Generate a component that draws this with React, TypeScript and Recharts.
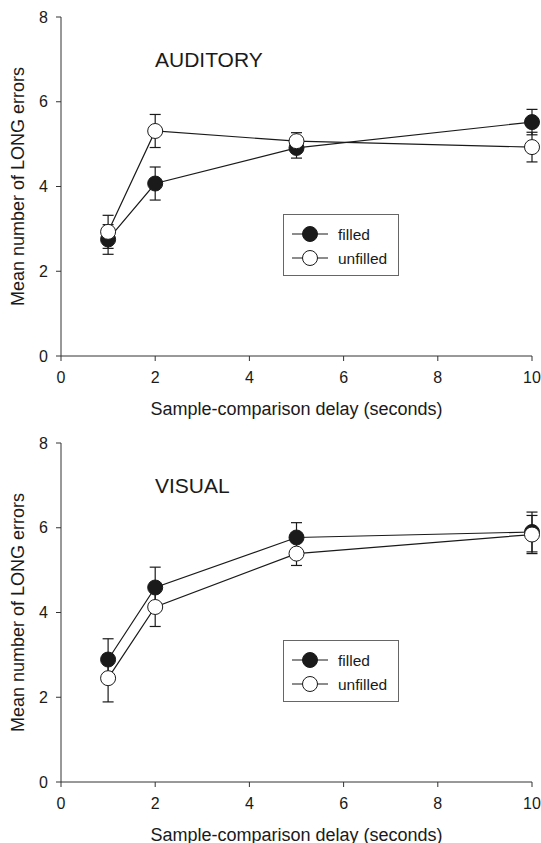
import { LineChart, Line, XAxis, YAxis, ErrorBar, Legend } from "recharts";

const delays = [1, 2, 5, 10];
const xTicks = [0, 2, 4, 6, 8, 10];
const yTicks = [0, 2, 4, 6, 8];

const auditoryFilled = [2.75, 4.07, 4.91, 5.52];
const auditoryFilledErr = [0.35, 0.39, 0.24, 0.3];
const auditoryUnfilled = [2.93, 5.31, 5.07, 4.93];
const auditoryUnfilledErr = [0.39, 0.39, 0.2, 0.35];

const visualFilled = [2.89, 4.59, 5.77, 5.9];
const visualFilledErr = [0.49, 0.48, 0.35, 0.47];
const visualUnfilled = [2.45, 4.13, 5.39, 5.84];
const visualUnfilledErr = [0.56, 0.46, 0.28, 0.45];

const legendLabels = ["filled", "unfilled"];

const FONT = '"Liberation Sans", Arial, Helvetica, sans-serif';
const INK = "#1a1a1a";
const AXIS = "#333";

function buildRows(
  filled: number[],
  filledErr: number[],
  unfilled: number[],
  unfilledErr: number[]
) {
  return delays.map((d, i) => ({
    delay: d,
    filled: filled[i],
    filledErr: filledErr[i],
    unfilled: unfilled[i],
    unfilledErr: unfilledErr[i],
  }));
}

function LegendBox() {
  return (
    <svg width={116} height={62} style={{ display: "block" }}>
      <rect x={0.5} y={0.5} width={115} height={61} fill="#fff" stroke="#666" />
      {legendLabels.map((label, i) => {
        const cy = 20 + i * 24;
        return (
          <g key={label}>
            <line x1={9} x2={45} y1={cy} y2={cy} stroke={INK} strokeWidth={1.2} />
            <circle
              cx={27}
              cy={cy}
              r={7.5}
              fill={i === 0 ? INK : "#fff"}
              stroke={INK}
              strokeWidth={1}
            />
            <text
              x={55}
              y={cy}
              dy="0.36em"
              fontSize={15.5}
              fontFamily={FONT}
              fill={INK}
            >
              {label}
            </text>
          </g>
        );
      })}
    </svg>
  );
}

function Panel({ title, rows }: { title: string; rows: ReturnType<typeof buildRows> }) {
  return (
    <div style={{ position: "relative", width: 541, height: 426 }}>
      <LineChart
        width={541}
        height={426}
        data={rows}
        margin={{ top: 17, right: 9, left: 0, bottom: 0 }}
      >
        <XAxis
          dataKey="delay"
          type="number"
          domain={[0, 10]}
          ticks={xTicks}
          height={70}
          stroke={AXIS}
          tickSize={5}
          tickMargin={11}
          tick={{ fill: INK, fontSize: 16, fontFamily: FONT }}
          label={{
            value: "Sample-comparison delay (seconds)",
            position: "insideBottom",
            offset: 11,
            fill: INK,
            fontSize: 18,
            fontFamily: FONT,
          }}
        />
        <YAxis
          type="number"
          domain={[0, 8]}
          ticks={yTicks}
          width={61}
          stroke={AXIS}
          tickSize={5}
          tickMargin={8}
          tick={{ fill: INK, fontSize: 16, fontFamily: FONT }}
          label={{
            value: "Mean number of LONG errors",
            angle: -90,
            position: "insideLeft",
            offset: 18,
            fill: INK,
            fontSize: 18,
            fontFamily: FONT,
            style: { textAnchor: "middle" },
          }}
        />
        <Legend
          layout="vertical"
          align="center"
          verticalAlign="middle"
          wrapperStyle={{ left: 283, top: 214, width: 116, height: 62 }}
          content={() => <LegendBox />}
        />
        <Line
          dataKey="filled"
          name="filled"
          stroke={INK}
          strokeWidth={1.2}
          dot={{ r: 7.5, fill: INK, stroke: INK, strokeWidth: 1 }}
          activeDot={false}
          isAnimationActive={false}
        >
          <ErrorBar
            dataKey="filledErr"
            direction="y"
            width={5.5}
            stroke={INK}
            strokeWidth={1.2}
            isAnimationActive={false}
          />
        </Line>
        <Line
          dataKey="unfilled"
          name="unfilled"
          stroke={INK}
          strokeWidth={1.2}
          dot={{ r: 7.5, fill: "#fff", stroke: INK, strokeWidth: 1 }}
          activeDot={false}
          isAnimationActive={false}
        >
          <ErrorBar
            dataKey="unfilledErr"
            direction="y"
            width={5.5}
            stroke={INK}
            strokeWidth={1.2}
            isAnimationActive={false}
          />
        </Line>
      </LineChart>
      <div
        style={{
          position: "absolute",
          left: 155,
          top: 49,
          fontFamily: FONT,
          fontSize: 21,
          lineHeight: 1,
          color: INK,
          whiteSpace: "nowrap",
        }}
      >
        {title}
      </div>
    </div>
  );
}

export default function App() {
  return (
    <div
      style={{
        position: "absolute",
        left: 0,
        top: 0,
        width: 541,
        height: 843,
        overflow: "hidden",
        background: "#fff",
      }}
    >
      <Panel
        title="AUDITORY"
        rows={buildRows(auditoryFilled, auditoryFilledErr, auditoryUnfilled, auditoryUnfilledErr)}
      />
      <Panel
        title="VISUAL"
        rows={buildRows(visualFilled, visualFilledErr, visualUnfilled, visualUnfilledErr)}
      />
    </div>
  );
}
